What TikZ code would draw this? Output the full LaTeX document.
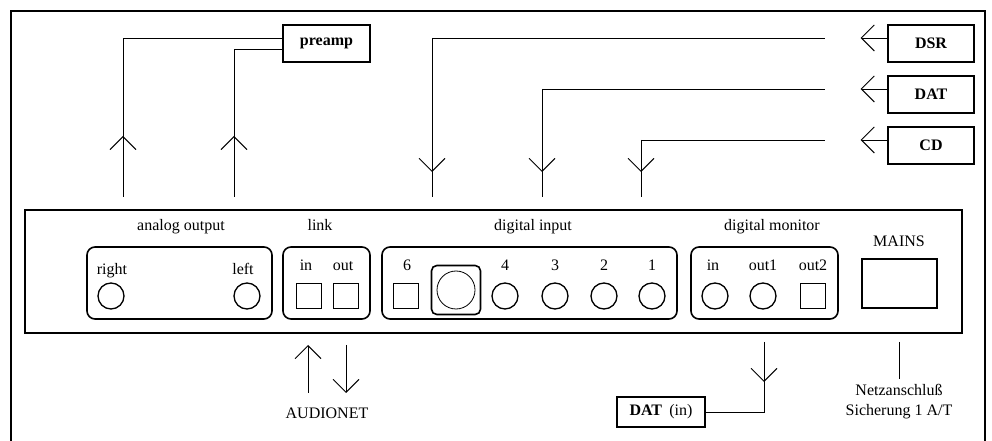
\documentclass[tikz,border=0pt]{standalone}
\usepackage{fontspec}
\setmainfont{Liberation Serif}
\usetikzlibrary{arrows.meta, positioning, calc}

\begin{document}
\begin{tikzpicture}[
        x=0.75pt, y=-0.75pt,
        font=\fontsize{12}{15}\selectfont,
        panel_style/.style={rectangle, draw, line width=1.5pt, inner sep=0pt},
        group_style/.style={rectangle, rounded corners=6pt, draw, line width=1.2pt, minimum height=54pt, inner sep=0pt},
        jack_style/.style={circle, draw, line width=1pt, minimum size=19.5pt, inner sep=0pt},
        optical_style/.style={rectangle, draw, line width=1pt, minimum size=18.75pt, inner sep=0pt},
        source_style/.style={rectangle, draw, line width=1.5pt, minimum width=65pt, minimum height=27.75pt, font=\fontsize{12}{15}\selectfont\bfseries, inner sep=0pt},
        label_style/.style={anchor=base, inner sep=0pt},
        line/.style={line width=0.7pt},
        arrow_line/.style={line, -{Straight Barb[length=9.75pt, width=19.5pt]}}
    ]
        \useasboundingbox (0,0) rectangle (992,441);

        % Rahmen
        \draw [line width=1.7pt] (11,441) -- (11,11) -- (985,11) -- (985,441);

        % Geraet
        \node (panel) [panel_style, minimum width=702.75pt, minimum height=92.25pt] at (493.5,271.5) {};

        \node (analog) [group_style, minimum width=138.75pt] at (179.5,283) {};
        \node (link) [group_style, minimum width=65.25pt] at (326.5,283) {};
        \node (diginput) [group_style, minimum width=221.25pt] at (529.5,283) {};
        \node (digmonitor) [group_style, minimum width=110.25pt] at (764.5,283) {};

        \node (analog_label) [label_style] at (181,231) {analog output};
        \node (link_label) [label_style] at (320,231) {link};
        \node (diginput_label) [label_style] at (533,231) {digital input};
        \node (digmonitor_label) [label_style] at (772,231) {digital monitor};
        \node (mains_label) [label_style] at (899,247) {MAINS};

        % Buchsen
        \node (a_right) [jack_style] at (111,296) {};
        \node (a_right_label) [label_style] at (112,275) {right};
        \node (a_left) [jack_style] at (247,296) {};
        \node (a_left_label) [label_style] at (243,275) {left};

        \node (link_in) [optical_style] at (309,296) {};
        \node (link_in_label) [label_style] at (306,271) {in};
        \node (link_out) [optical_style] at (346,296) {};
        \node (link_out_label) [label_style] at (343,271) {out};

        \node (in6) [optical_style] at (406,296) {};
        \node (in6_label) [label_style] at (407,271) {6};
        \node (in5) [rectangle, draw, line width=1.2pt, rounded corners=4pt, minimum size=36.75pt, inner sep=0pt] at (456,290) {};
        \node (in5_circle) [circle, draw, line width=0.6pt, minimum size=28.5pt, inner sep=0pt] at (in5) {};
        \foreach \n/\x in {4/505, 3/555, 2/604, 1/652} {
            \node (in\n) [jack_style] at (\x,296) {};
            \node (in\n_label) [label_style] at (\x,271) {\n};
        }

        \node (mon_in) [jack_style] at (715,296) {};
        \node (mon_in_label) [label_style] at (713,271) {in};
        \node (mon_out1) [jack_style] at (763,296) {};
        \node (mon_out1_label) [label_style] at (763,271) {out1};
        \node (mon_out2) [optical_style] at (813,296) {};
        \node (mon_out2_label) [label_style] at (813,271) {out2};

        \node (mains) [rectangle, draw, line width=1.2pt, minimum width=56.25pt, minimum height=36.75pt] at (899.5,283.5) {};

        % Quellen oben
        \node (preamp) [source_style] at (326.5,43.5) {preamp};
        \node (dsr) [source_style] at (931,43.5) {DSR};
        \node (dat) [source_style, below=9pt of dsr] {DAT};
        \node (cd) [source_style, below=9pt of dat] {CD};

        \coordinate (out_r) at (123,197);
        \coordinate (out_l) at (234,197);
        \draw [line] (out_r) |- ($(preamp.west)+(0,-5.5)$);
        \draw [arrow_line] (out_r) -- ++(0,-61);
        \draw [line] (out_l) |- ($(preamp.west)+(0,5.5)$);
        \draw [arrow_line] (out_l) -- ++(0,-61);

        \foreach \src/\x in {dsr/432, dat/542, cd/641} {
            \coordinate (\src_end) at ($(\src.west)+(-62,-5.5)$);
            \coordinate (\src_in) at (\x,197);
            \draw [arrow_line] ($(\src.west)+(0,-5.5)$) -- ++(-26,0);
            \draw [line] (\src_end) -| (\src_in);
            \draw [arrow_line] (\src_end -| \src_in) -- ($(\src_in)+(0,-25)$);
        }

        % Unten
        \node (audionet) [label_style] at (327,418) {AUDIONET};
        \coordinate (an_in) at (308,393);
        \coordinate (an_out) at (346,345);
        \draw [arrow_line] (an_in) -- ++(0,-48);
        \draw [arrow_line] (an_out) -- ++(0,48);

        \node (dat_in) [source_style, font=\fontsize{12}{15}\selectfont, minimum width=66pt, minimum height=22.5pt] at (661,412) {\textbf{DAT}\hspace{0.45em}(in)};
        \coordinate (mon_link) at (764,342);
        \draw [line] (dat_in.east) -| (mon_link);
        \draw [arrow_line] (mon_link) -- ++(0,40);

        \node (netz) [align=center, anchor=north, inner sep=0pt] at (899,384) {Netzanschluß\\Sicherung 1 A/T};
        \coordinate (mains_link) at (899,342);
        \draw [line] (mains_link) -- ($(netz.north)+(0,-5)$);

    \end{tikzpicture}
\end{document}
